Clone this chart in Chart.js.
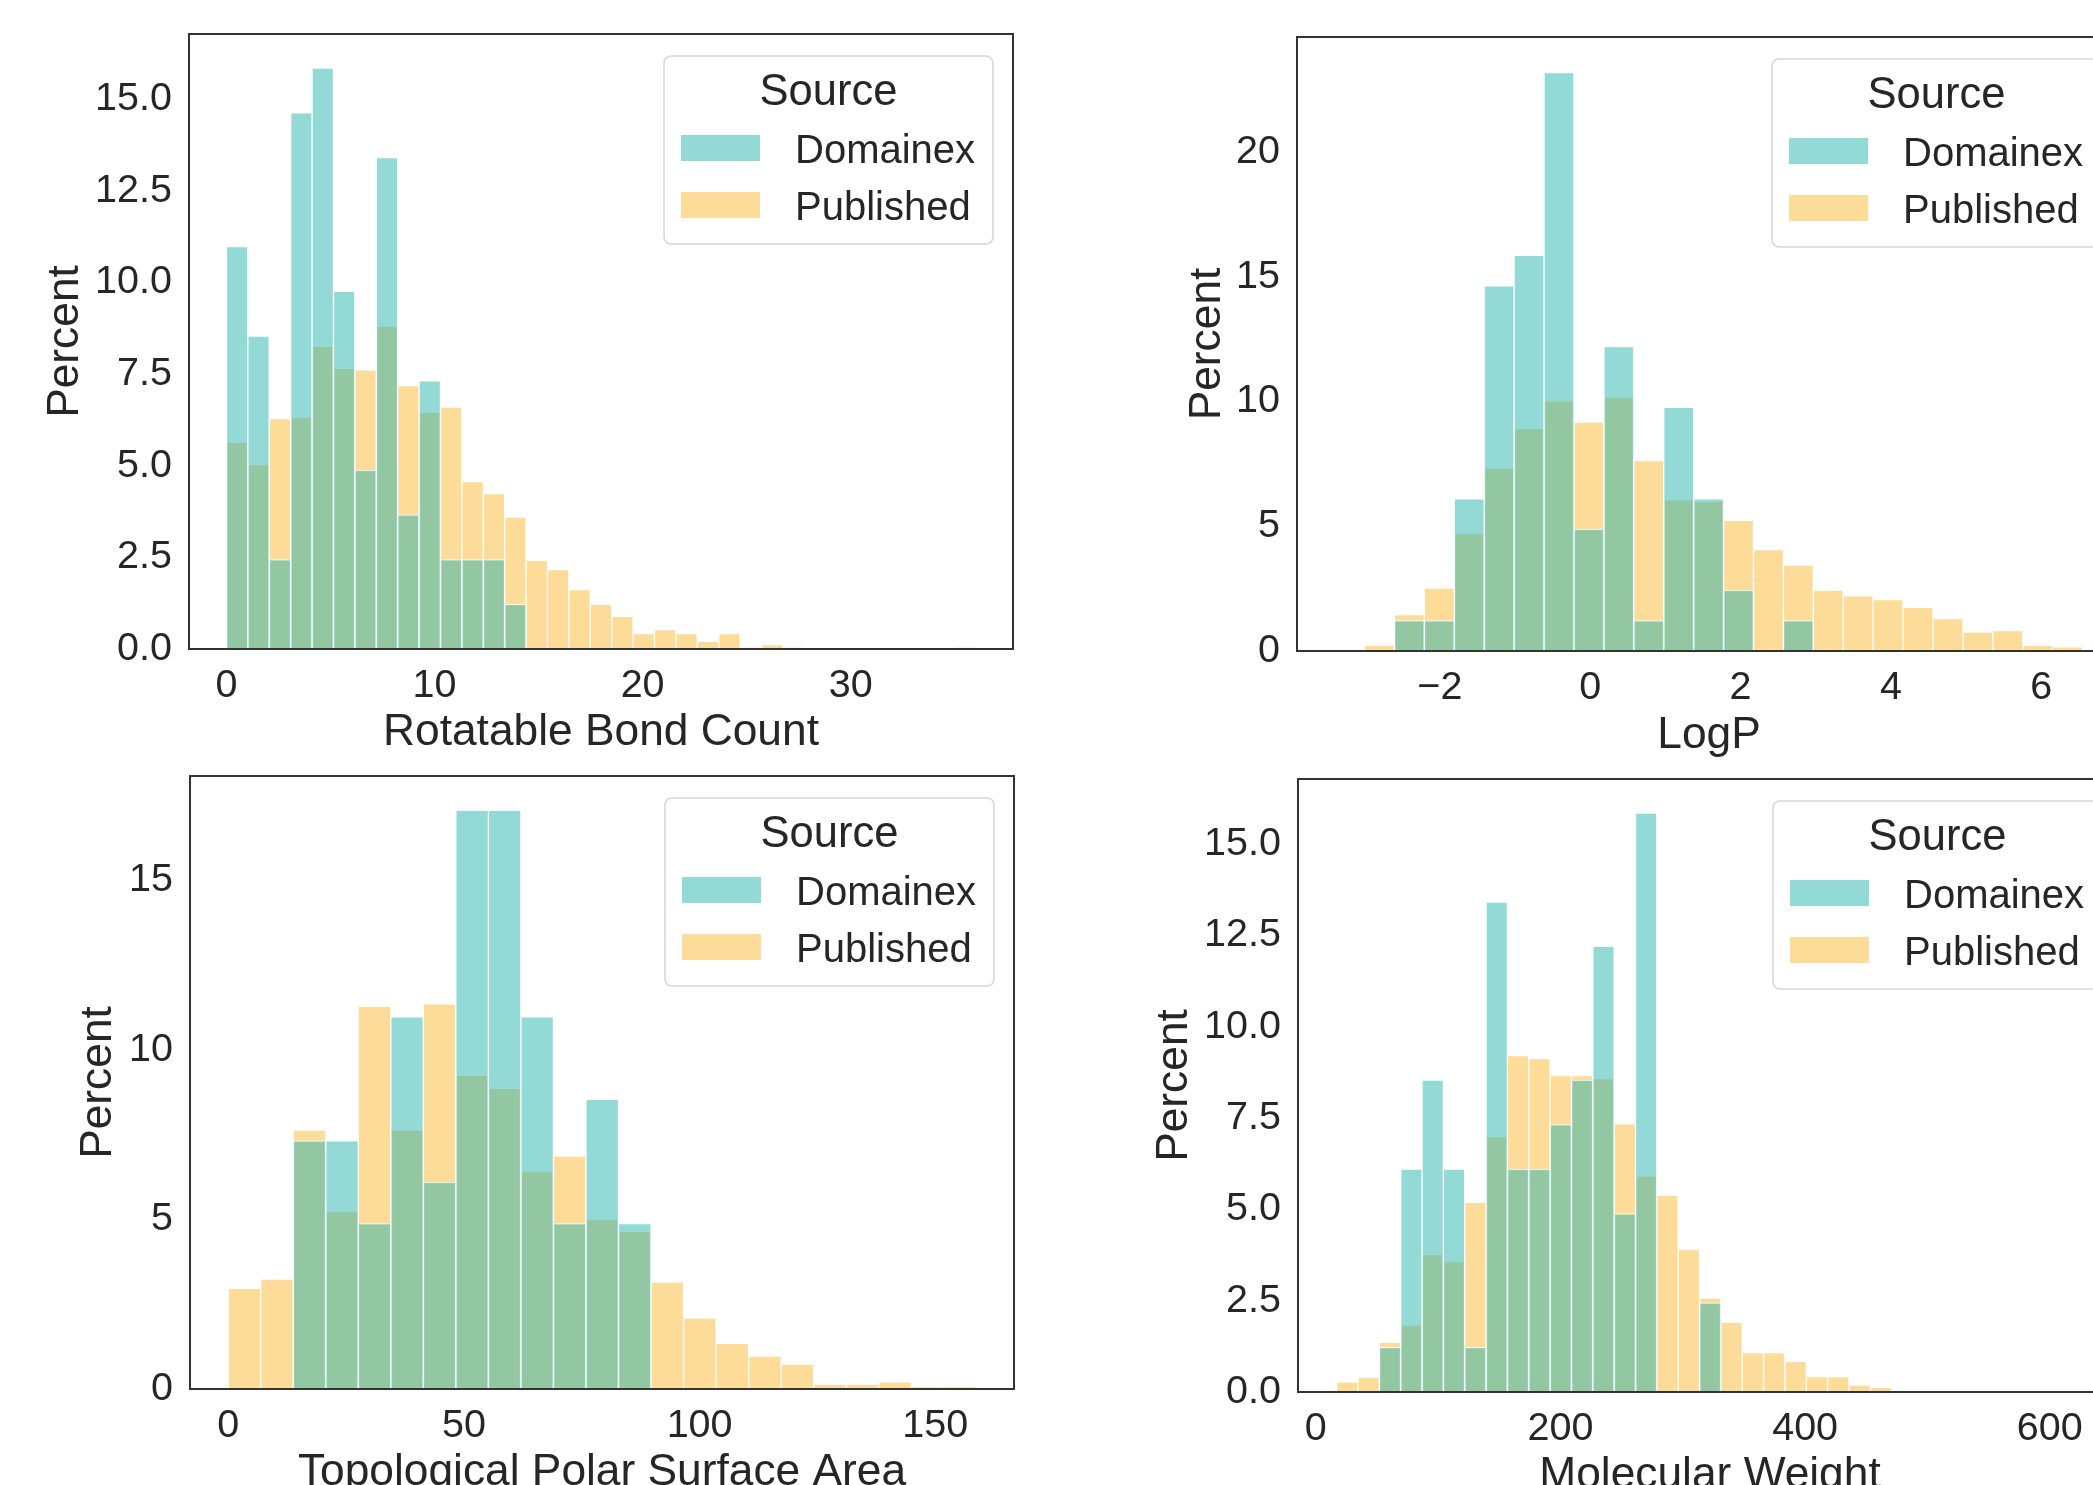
<!DOCTYPE html>
<html>
<head>
<meta charset="utf-8">
<title>Domainex vs Published</title>
<script src="https://cdn.jsdelivr.net/npm/chart.js@4.4.1/dist/chart.umd.min.js"></script>
<style>
  html, body { margin: 0; padding: 0; background: #fff; width: 2093px; height: 1485px; overflow: hidden; }
  .panel { position: absolute; }
</style>
</head>
<body>
<div class="panel" style="left:0px;top:0px"><canvas id="rotChart" width="1060" height="760"></canvas></div>
<div class="panel" style="left:1100px;top:0px"><canvas id="logpChart" width="1060" height="760"></canvas></div>
<div class="panel" style="left:0px;top:760px"><canvas id="tpsaChart" width="1060" height="770"></canvas></div>
<div class="panel" style="left:1100px;top:760px"><canvas id="mwChart" width="1060" height="770"></canvas></div>
<script>
const sources = ["Domainex", "Published"];
const legendTitle = "Source";

// Rotatable Bond Count (percent per bin)
const rotBinStart = 0;
const rotBinWidth = 1.0286;
const rotDomainex = [10.98, 8.54, 2.44, 14.63, 15.85, 9.76, 4.88, 13.41, 3.66, 7.32, 2.44, 2.44, 2.44, 1.22,
  0, 0, 0, 0, 0, 0, 0, 0, 0, 0, 0, 0, 0, 0, 0, 0, 0, 0, 0, 0, 0];
const rotPublished = [5.64, 5.03, 6.29, 6.32, 8.26, 7.66, 7.62, 8.81, 7.19, 6.46, 6.60, 4.57, 4.24, 3.60,
  2.42, 2.17, 1.62, 1.22, 0.89, 0.42, 0.53, 0.42, 0.21, 0.42, 0.05, 0.12, 0.05, 0, 0, 0, 0, 0, 0, 0, 0.05];
const rotXTicks = [0, 10, 20, 30];
const rotXLabels = ["0", "10", "20", "30"];
const rotYTicks = [0, 2.5, 5, 7.5, 10, 12.5, 15];
const rotYLabels = ["0.0", "2.5", "5.0", "7.5", "10.0", "12.5", "15.0"];

// LogP
const logpBinStart = -3.40;
const logpBinWidth = 0.398;
const logpDomainex = [0, 0, 1.22, 1.22, 6.10, 14.63, 15.85, 23.17, 4.88, 12.20, 1.22, 9.76, 6.10, 2.44, 0, 1.22,
  0, 0, 0, 0, 0, 0, 0, 0, 0];
const logpPublished = [0, 0.23, 1.46, 2.52, 4.70, 7.32, 8.91, 10.02, 9.17, 10.17, 7.63, 6.06, 6.00, 5.24, 4.06, 3.44,
  2.43, 2.21, 2.06, 1.75, 1.30, 0.76, 0.82, 0.23, 0.17];
const logpXTicks = [-2, 0, 2, 4, 6];
const logpXLabels = ["\u22122", "0", "2", "4", "6"];
const logpYTicks = [0, 5, 10, 15, 20];
const logpYLabels = ["0", "5", "10", "15", "20"];

// Topological Polar Surface Area
const tpsaBinStart = 0;
const tpsaBinWidth = 6.9;
const tpsaDomainex = [0, 0, 7.32, 7.32, 4.88, 10.98, 6.10, 17.07, 17.07, 10.98, 4.88, 8.54, 4.88,
  0, 0, 0, 0, 0, 0, 0, 0, 0, 0];
const tpsaPublished = [2.97, 3.24, 7.64, 5.23, 11.29, 7.64, 11.36, 9.25, 8.87, 6.43, 6.87, 5.00, 4.65,
  3.15, 2.09, 1.35, 0.97, 0.73, 0.14, 0.14, 0.21, 0.07, 0.07];
const tpsaXTicks = [0, 50, 100, 150];
const tpsaXLabels = ["0", "50", "100", "150"];
const tpsaYTicks = [0, 5, 10, 15];
const tpsaYLabels = ["0", "5", "10", "15"];

// Molecular Weight
const mwBinStart = 17.07;
const mwBinWidth = 17.45;
const mwDomainex = [0, 0, 1.22, 6.10, 8.54, 6.10, 1.22, 13.41, 6.10, 6.10, 7.32, 8.54, 12.20, 4.88, 15.85, 0, 0, 2.44,
  0, 0, 0, 0, 0, 0, 0, 0];
const mwPublished = [0.27, 0.40, 1.36, 1.83, 3.77, 3.57, 5.19, 6.99, 9.21, 9.13, 8.66, 8.66, 8.58, 7.34, 5.91, 5.39, 3.91, 2.57,
  1.91, 1.08, 1.08, 0.84, 0.42, 0.42, 0.19, 0.13];
const mwXTicks = [0, 200, 400, 600];
const mwXLabels = ["0", "200", "400", "600"];
const mwYTicks = [0, 2.5, 5, 7.5, 10, 12.5, 15];
const mwYLabels = ["0.0", "2.5", "5.0", "7.5", "10.0", "12.5", "15.0"];

const FONT = "'Liberation Sans', Arial, Helvetica, sans-serif";
const TEXT = "#262626";
const TICK_SIZE = 39.5;
const LABEL_SIZE = 44.3;
const colors = ["rgba(40, 180, 172, 0.5)", "rgba(252, 184, 50, 0.5)"];

function toPoints(start, width, values) {
  return values.map((v, i) => ({ x: start + (i + 0.5) * width, y: v }));
}

// spine box + seaborn-like legend, drawn on top of the bars
const framePlugin = {
  id: "frameAndLegend",
  afterDraw(chart) {
    const { ctx, chartArea } = chart;
    const a = chartArea;
    ctx.save();
    ctx.strokeStyle = "#333333";
    ctx.lineWidth = 2;
    ctx.strokeRect(a.left, a.top, a.right - a.left, a.bottom - a.top);

    const w = 329, h = 188;
    const bx = a.right - 20 - w;
    const by = a.top + 22;
    ctx.beginPath();
    ctx.roundRect(bx, by, w, h, 7);
    ctx.fillStyle = "rgba(255,255,255,0.85)";
    ctx.fill();
    ctx.strokeStyle = "#d6d6d6";
    ctx.lineWidth = 1.5;
    ctx.stroke();

    ctx.fillStyle = TEXT;
    ctx.textBaseline = "alphabetic";
    ctx.textAlign = "center";
    ctx.font = "43.5px " + FONT;
    ctx.fillText(legendTitle, bx + w / 2, by + 49);

    ctx.textAlign = "left";
    ctx.font = "40px " + FONT;
    sources.forEach((name, i) => {
      const rowY = by + 79 + i * 57;
      ctx.fillStyle = "#ffffff";
      ctx.fillRect(bx + 17, rowY, 79, 26);
      ctx.fillStyle = colors[i];
      ctx.fillRect(bx + 17, rowY, 79, 26);
      ctx.fillStyle = TEXT;
      ctx.fillText(name, bx + 131, rowY + 27.5);
    });
    ctx.restore();
  }
};

function makePanel(canvasId, cfg) {
  const canvas = document.getElementById(canvasId);
  const fr = cfg.frame;
  const xAxisHeight = canvas.height - fr.bottom;
  new Chart(canvas, {
    type: "bar",
    data: {
      datasets: [
        {
          label: sources[0],
          data: toPoints(cfg.start, cfg.width, cfg.domainex),
          backgroundColor: colors[0],
          borderColor: "rgba(255,255,255,0.8)",
          borderWidth: 1,
          grouped: false,
          categoryPercentage: 1,
          barPercentage: 1
        },
        {
          label: sources[1],
          data: toPoints(cfg.start, cfg.width, cfg.published),
          backgroundColor: colors[1],
          borderColor: "rgba(255,255,255,0.8)",
          borderWidth: 1,
          grouped: false,
          categoryPercentage: 1,
          barPercentage: 1
        }
      ]
    },
    options: {
      responsive: false,
      animation: false,
      events: [],
      layout: {
        padding: { top: fr.top, right: canvas.width - fr.right, left: 0, bottom: 0 }
      },
      plugins: {
        legend: { display: false },
        tooltip: { enabled: false }
      },
      scales: {
        x: {
          type: "linear",
          offset: false,
          min: cfg.xMin,
          max: cfg.xMax,
          grid: { display: false, drawTicks: false },
          border: { display: false },
          afterBuildTicks: (scale) => { scale.ticks = cfg.xTicks.map((v) => ({ value: v })); },
          afterFit: (scale) => {
            scale.height = xAxisHeight;
            scale.paddingLeft = 0;
            scale.paddingRight = 0;
          },
          ticks: {
            autoSkip: false,
            maxRotation: 0,
            padding: 37.5 - TICK_SIZE * 0.6,
            color: TEXT,
            font: { family: FONT, size: TICK_SIZE },
            callback: (value, index) => cfg.xLabels[index]
          },
          title: {
            display: true,
            text: cfg.xTitle,
            color: TEXT,
            font: { family: FONT, size: LABEL_SIZE },
            padding: { top: 0, bottom: xAxisHeight - cfg.xTitleGap - LABEL_SIZE * 0.6 }
          }
        },
        y: {
          min: 0,
          max: cfg.yMax,
          grid: { display: false, drawTicks: false },
          border: { display: false },
          afterBuildTicks: (scale) => { scale.ticks = cfg.yTicks.map((v) => ({ value: v })); },
          afterFit: (scale) => {
            scale.width = fr.left;
            scale.paddingTop = 0;
            scale.paddingBottom = 0;
          },
          ticks: {
            autoSkip: false,
            padding: 17,
            color: TEXT,
            font: { family: FONT, size: TICK_SIZE },
            callback: (value, index) => cfg.yLabels[index]
          },
          title: {
            display: true,
            text: "Percent",
            color: TEXT,
            font: { family: FONT, size: LABEL_SIZE },
            padding: { top: cfg.yTitleX - LABEL_SIZE * 0.6, bottom: 0 }
          }
        }
      }
    },
    plugins: [framePlugin]
  });
}

makePanel("rotChart", {
  frame: { left: 189, top: 34, right: 1013, bottom: 649 },
  start: rotBinStart, width: rotBinWidth, domainex: rotDomainex, published: rotPublished,
  xMin: -1.8, xMax: 37.8, yMax: 16.78,
  xTicks: rotXTicks, xLabels: rotXLabels, yTicks: rotYTicks, yLabels: rotYLabels,
  xTitle: "Rotatable Bond Count", xTitleGap: 84, yTitleX: 66
});

makePanel("logpChart", {
  frame: { left: 197, top: 37, right: 1021, bottom: 651 },
  start: logpBinStart, width: logpBinWidth, domainex: logpDomainex, published: logpPublished,
  xMin: -3.9, xMax: 7.06, yMax: 24.6,
  xTicks: logpXTicks, xLabels: logpXLabels, yTicks: logpYTicks, yLabels: logpYLabels,
  xTitle: "LogP", xTitleGap: 85, yTitleX: 107.5
});

makePanel("tpsaChart", {
  frame: { left: 190, top: 16, right: 1014, bottom: 629 },
  start: tpsaBinStart, width: tpsaBinWidth, domainex: tpsaDomainex, published: tpsaPublished,
  xMin: -8.1, xMax: 166.7, yMax: 18.08,
  xTicks: tpsaXTicks, xLabels: tpsaXLabels, yTicks: tpsaYTicks, yLabels: tpsaYLabels,
  xTitle: "Topological Polar Surface Area", xTitleGap: 84, yTitleX: 99
});

makePanel("mwChart", {
  frame: { left: 198, top: 19, right: 1022, bottom: 632 },
  start: mwBinStart, width: mwBinWidth, domainex: mwDomainex, published: mwPublished,
  xMin: -14.5, xMax: 659, yMax: 16.78,
  xTicks: mwXTicks, xLabels: mwXLabels, yTicks: mwYTicks, yLabels: mwYLabels,
  xTitle: "Molecular Weight", xTitleGap: 84, yTitleX: 74.5
});
</script>
</body>
</html>
